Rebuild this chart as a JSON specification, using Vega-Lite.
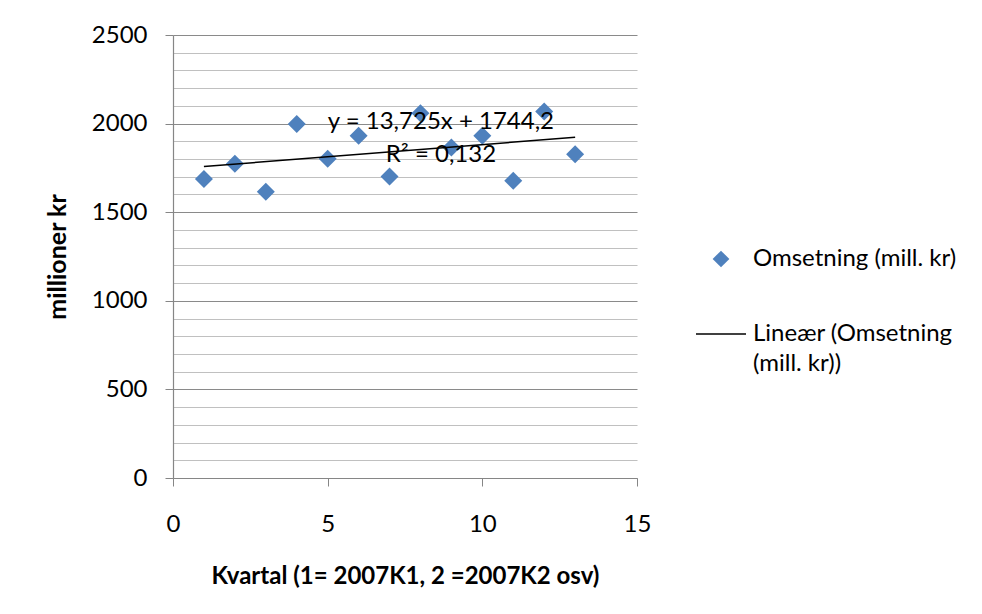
{
  "$schema": "https://vega.github.io/schema/vega-lite/v6.json",
  "width": 464,
  "height": 443,
  "autosize": {"type": "none"},
  "padding": {"left": 173, "top": 35, "right": 345, "bottom": 136},
  "background": "white",
  "config": {"view": {"stroke": null}, "font": "Lato", "style": {"guide-label": {"lineHeight": 30}}},
  "datasets": {
    "punkter": [
      {"kvartal": 1, "omsetning": 1688, "serie": "Omsetning (mill. kr)"},
      {"kvartal": 2, "omsetning": 1773, "serie": "Omsetning (mill. kr)"},
      {"kvartal": 3, "omsetning": 1615, "serie": "Omsetning (mill. kr)"},
      {"kvartal": 4, "omsetning": 1998, "serie": "Omsetning (mill. kr)"},
      {"kvartal": 5, "omsetning": 1801, "serie": "Omsetning (mill. kr)"},
      {"kvartal": 6, "omsetning": 1931, "serie": "Omsetning (mill. kr)"},
      {"kvartal": 7, "omsetning": 1702, "serie": "Omsetning (mill. kr)"},
      {"kvartal": 8, "omsetning": 2058, "serie": "Omsetning (mill. kr)"},
      {"kvartal": 9, "omsetning": 1865, "serie": "Omsetning (mill. kr)"},
      {"kvartal": 10, "omsetning": 1931, "serie": "Omsetning (mill. kr)"},
      {"kvartal": 11, "omsetning": 1677, "serie": "Omsetning (mill. kr)"},
      {"kvartal": 12, "omsetning": 2068, "serie": "Omsetning (mill. kr)"},
      {"kvartal": 13, "omsetning": 1827, "serie": "Omsetning (mill. kr)"}
    ],
    "trend": [
      {"kvartal": 1, "verdi": 1757.9, "serie": "Lineær (Omsetning (mill. kr))"},
      {"kvartal": 13, "verdi": 1922.6, "serie": "Lineær (Omsetning (mill. kr))"}
    ],
    "notat": [
      {"kvartal": 8.66, "verdi": 2009, "tekst": "y = 13,725x + 1744,2"},
      {"kvartal": 8.66, "verdi": 1823, "tekst": "R² = 0,132"}
    ]
  },
  "layer": [
    {
      "data": {"name": "punkter"},
      "mark": {"type": "point", "shape": "diamond", "filled": true, "size": 324, "opacity": 1},
      "encoding": {
        "x": {
          "field": "kvartal", "type": "quantitative",
          "scale": {"domain": [0, 15], "nice": false, "zero": false},
          "axis": {
            "values": [0, 5, 10, 15],
            "grid": false,
            "tickSize": 8,
            "tickColor": "#868686",
            "domainColor": "#868686",
            "labelPadding": 26,
            "labelFontSize": 24,
            "labelColor": "black",
            "labelOverlap": false,
            "labelFlush": false,
            "title": "Kvartal (1= 2007K1, 2 =2007K2 osv)",
            "titleFontSize": 24,
            "titleFontWeight": "bold",
            "titleColor": "black",
            "titleY": 98,
            "titleBaseline": "middle"
          }
        },
        "y": {
          "field": "omsetning", "type": "quantitative",
          "scale": {"domain": [0, 2500], "nice": false},
          "axis": {
            "values": [0, 100, 200, 300, 400, 500, 600, 700, 800, 900, 1000, 1100, 1200, 1300, 1400, 1500, 1600, 1700, 1800, 1900, 2000, 2100, 2200, 2300, 2400, 2500],
            "tickCount": 40,
            "labelExpr": "datum.value % 500 === 0 ? datum.label : ''",
            "format": "d",
            "labelOverlap": false,
            "labelFlush": false,
            "grid": true,
            "gridColor": {"condition": {"test": "datum.value % 500 === 0", "value": "#8A8A8A"}, "value": "#C0C0C0"},
            "gridWidth": 1.2,
            "tickSize": 8,
            "tickColor": "#868686",
            "tickOpacity": {"condition": {"test": "datum.value % 500 === 0", "value": 1}, "value": 0},
            "domainColor": "#868686",
            "domainWidth": 1.2,
            "labelPadding": 18,
            "labelFontSize": 24,
            "labelColor": "black",
            "title": "millioner kr",
            "titleFontSize": 25,
            "titleFontWeight": "bold",
            "titleColor": "black",
            "titleX": -116,
            "titleY": 221.5,
            "titleBaseline": "middle"
          }
        },
        "fill": {
          "field": "serie", "type": "nominal",
          "scale": {"range": ["#4F81BD"]},
          "legend": {
            "orient": "none",
            "legendX": 536,
            "legendY": 212,
            "title": null,
            "symbolType": "diamond",
            "symbolSize": 280,
            "symbolStrokeWidth": 0,
            "labelFontSize": 24,
            "labelColor": "black",
            "labelOffset": 20,
            "labelLimit": 400,
            "padding": 0
          }
        }
      }
    },
    {
      "data": {"name": "trend"},
      "mark": {"type": "line", "strokeWidth": 1.5},
      "encoding": {
        "x": {"field": "kvartal", "type": "quantitative"},
        "y": {"field": "verdi", "type": "quantitative"},
        "stroke": {
          "field": "serie", "type": "nominal",
          "scale": {"range": ["black"]},
          "legend": {
            "orient": "none",
            "legendX": 522,
            "legendY": 273,
            "title": null,
            "symbolType": "stroke",
            "symbolSize": 2500,
            "symbolStrokeWidth": 1.5,
            "labelFontSize": 24,
            "labelColor": "black",
            "labelOffset": 6,
            "labelLimit": 400,
            "labelBaseline": "middle",
            "padding": 0,
            "labelExpr": "['Lineær (Omsetning', '(mill. kr))']"
          }
        }
      }
    },
    {
      "data": {"name": "notat"},
      "mark": {"type": "text", "fontSize": 24, "color": "black", "align": "center", "baseline": "middle"},
      "encoding": {
        "x": {"field": "kvartal", "type": "quantitative"},
        "y": {"field": "verdi", "type": "quantitative"},
        "text": {"field": "tekst"}
      }
    }
  ]
}
